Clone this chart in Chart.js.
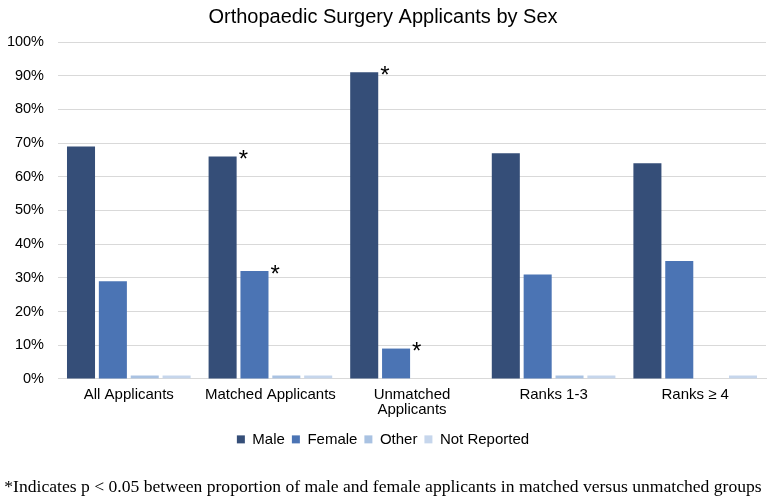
<!DOCTYPE html>
<html>
<head>
<meta charset="utf-8">
<script src="https://cdn.jsdelivr.net/npm/chart.js@4/dist/chart.umd.min.js"></script>
<style>
  html, body { margin: 0; padding: 0; background: #fff; }
  #wrap { width: 769px; height: 504px; position: relative; }
</style>
</head>
<body>
<div id="wrap"><canvas id="chart"></canvas></div>
<script>
// Categories and series (percent of applicants)
var categories = ['All Applicants', 'Matched Applicants', ['Unmatched', 'Applicants'], 'Ranks 1-3', 'Ranks \u2265 4'];
var male = [69, 66, 91, 67, 64];
var female = [29, 32, 9, 31, 35];
var other = [1, 1, 0, 1, 0];
var notReported = [1, 1, 0, 1, 1];
var yTicks = [0, 10, 20, 30, 40, 50, 60, 70, 80, 90, 100];

// Bars flagged as significant: [datasetIndex, categoryIndex]
var starred = [[0, 1], [1, 1], [0, 2], [1, 2]];

var colors = ['#354e78', '#4b74b4', '#a9c2e2', '#c6d6ec'];

var starPlugin = {
  id: 'stars',
  afterDatasetsDraw: function (chart) {
    var ctx = chart.ctx;
    ctx.save();
    ctx.fillStyle = '#000';
    ctx.font = '24px "Liberation Sans", Arial, sans-serif';
    ctx.textAlign = 'left';
    ctx.textBaseline = 'top';
    starred.forEach(function (s) {
      var bar = chart.getDatasetMeta(s[0]).data[s[1]];
      ctx.fillText('*', bar.x + bar.width / 2 + 2, bar.y - 8);
    });
    ctx.restore();
  }
};

var ctx = document.getElementById('chart').getContext('2d');
new Chart(ctx, {
  type: 'bar',
  data: {
    labels: categories,
    datasets: [
      { label: 'Male', data: male, backgroundColor: colors[0] },
      { label: 'Female', data: female, backgroundColor: colors[1] },
      { label: 'Other', data: other, backgroundColor: colors[2] },
      { label: 'Not Reported', data: notReported, backgroundColor: colors[3] }
    ]
  },
  options: {
    responsive: true,
    maintainAspectRatio: false,
    animation: false,
    layout: { padding: { left: 0, right: 3, top: 5, bottom: 6 } },
    datasets: { bar: { categoryPercentage: 0.9, barPercentage: 0.88 } },
    plugins: {
      title: {
        display: true,
        text: 'Orthopaedic Surgery Applicants by Sex',
        color: '#000',
        font: { family: '"Liberation Sans", Arial, sans-serif', size: 20, weight: 'normal' },
        padding: { top: 0, bottom: 13 }
      },
      subtitle: {
        display: true,
        position: 'bottom',
        text: '*Indicates p < 0.05 between proportion of male and female applicants in matched versus unmatched groups',
        color: '#000',
        font: { family: '"Liberation Serif", "Times New Roman", serif', size: 17.6, weight: 'normal' },
        padding: { top: 20, bottom: 0 }
      },
      legend: {
        position: 'bottom',
        labels: {
          color: '#000',
          boxWidth: 8,
          boxHeight: 8,
          padding: 7,
          font: { family: '"Liberation Sans", Arial, sans-serif', size: 15 }
        }
      },
      tooltip: { enabled: false }
    },
    scales: {
      x: {
        grid: { display: false, drawTicks: false },
        border: { color: '#d9d9d9' },
        ticks: {
          color: '#000',
          maxRotation: 0,
          padding: 8,
          font: { family: '"Liberation Sans", Arial, sans-serif', size: 15, lineHeight: 1.0 }
        }
      },
      y: {
        min: 0,
        max: 100,
        afterBuildTicks: function (axis) {
          axis.ticks = yTicks.map(function (v) { return { value: v }; });
        },
        afterFit: function (axis) { axis.width = 58; },
        grid: { color: '#d9d9d9', drawTicks: false },
        border: { display: false },
        ticks: {
          color: '#000',
          padding: 14,
          callback: function (v) { return v + '%'; },
          font: { family: '"Liberation Sans", Arial, sans-serif', size: 14.5 }
        }
      }
    }
  },
  plugins: [starPlugin]
});
</script>
</body>
</html>
